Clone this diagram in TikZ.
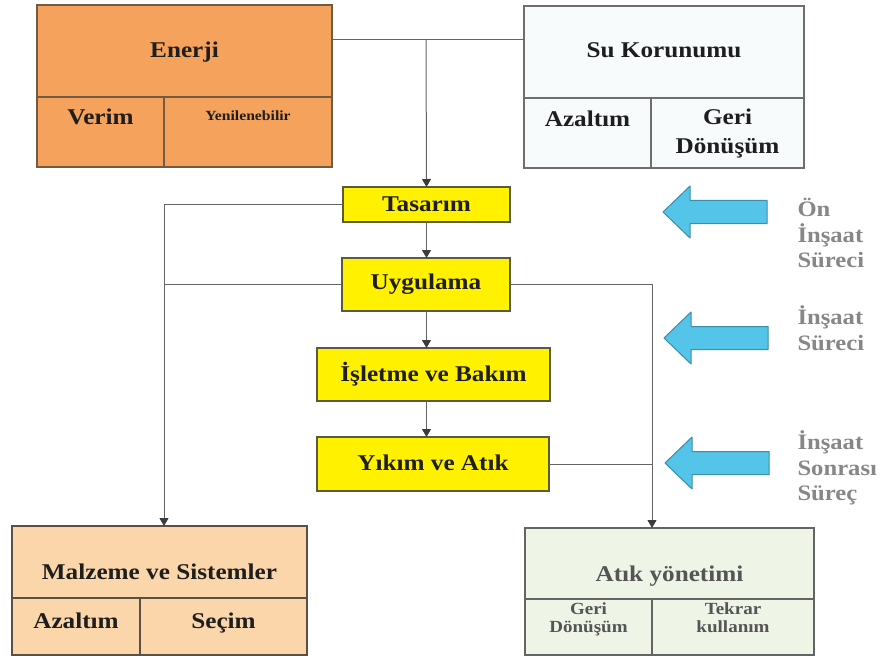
\documentclass[tikz,border=0pt]{standalone}
\usepackage{fontspec}
\setmainfont{Liberation Serif}[FakeStretch=1.12]
\usetikzlibrary{arrows.meta}
\definecolor{orfill}{RGB}{245,163,92}
\definecolor{orline}{RGB}{115,90,65}
\definecolor{sufill}{RGB}{248,251,252}
\definecolor{suline}{RGB}{110,110,110}
\definecolor{yfill}{RGB}{255,241,0}
\definecolor{yline}{RGB}{90,90,60}
\definecolor{mfill}{RGB}{250,214,170}
\definecolor{mline}{RGB}{90,80,70}
\definecolor{afill}{RGB}{238,245,230}
\definecolor{aline}{RGB}{100,100,100}
\definecolor{bfill}{RGB}{84,196,232}
\definecolor{bline}{RGB}{60,140,170}
\definecolor{conn}{RGB}{100,100,100}
\definecolor{tipc}{RGB}{60,60,60}
\definecolor{txt}{RGB}{30,30,30}
\definecolor{gtxt}{RGB}{135,135,135}
\newcommand{\cellt}[4]{\begin{minipage}[c][#1pt][t]{#2pt}\centering\vspace*{#3pt}#4\end{minipage}}
\tikzset{
  cell/.style={draw, line width=1.2pt, inner sep=0pt, outer sep=0pt, anchor=north west,
    text=txt, font=\bfseries\fontsize{22.5}{29}\selectfont},
  obox/.style={cell, fill=orfill, draw=orline},
  sbox/.style={cell, fill=sufill, draw=suline},
  mbox/.style={cell, fill=mfill, draw=mline},
  abox/.style={cell, fill=afill, draw=aline, text={rgb,255:red,85;green,85;blue,85}},
  ybox/.style={draw=yline, fill=yfill, line width=1.2pt, inner sep=0pt, outer sep=0pt,
    anchor=north west, text=txt, font=\bfseries\fontsize{22.5}{26}\selectfont},
  conline/.style={draw=conn, line width=1pt},
  arr/.style={conline, -{Triangle[width=9pt,length=8pt,fill=tipc,color=tipc]}},
  barrow/.style={fill=bfill, draw=bline, line width=1pt, line join=round},
  side/.style={anchor=west, align=left, text=gtxt, font=\bfseries\fontsize{22}{25.5}\selectfont}
}
\begin{document}
\begin{tikzpicture}[x=1pt,y=-1pt]
\useasboundingbox (0,0) rectangle (884,658);

% Enerji
\node[obox] (enerji) at (37,5) {\cellt{92}{295}{37}{Enerji}};
\node[obox] (verim) at (37,97) {\cellt{70}{127}{12}{Verim}};
\node[obox] (yenil) at (164,97) {\cellt{70}{168}{14}{\fontsize{14}{16}\selectfont Yenilenebilir}};

% Su Korunumu
\node[sbox] (su) at (524,6) {\cellt{92}{280}{37}{Su Korunumu}};
\node[sbox] (suaz) at (524,98) {\cellt{70}{127}{13}{Azaltım}};
\node[sbox] (sugeri) at (651,98) {\cellt{70}{153}{11}{Geri\\Dönüşüm}};

% Yellow process boxes
\node[ybox, minimum width=167, minimum height=35] (tasarim) at (343,187) {Tasarım};
\node[ybox, minimum width=168, minimum height=53] (uyg) at (342,258) {\raisebox{3pt}{Uygulama}};
\node[ybox, minimum width=233, minimum height=53] (islet) at (317,348) {\raisebox{3pt}{İşletme ve Bakım}};
\node[ybox, minimum width=232, minimum height=54] (yikim) at (317,437) {\raisebox{3pt}{Yıkım ve Atık}};

% Malzeme ve Sistemler
\node[mbox] (malz) at (12,526) {\cellt{72}{295}{38}{Malzeme ve Sistemler}};
\node[mbox] (maz) at (12,598) {\cellt{57}{128}{15}{Azaltım}};
\node[mbox] (msec) at (140,598) {\cellt{57}{167}{15}{Seçim}};

% Atik yonetimi
\node[abox] (atik) at (525,528) {\cellt{71}{289}{38}{Atık yönetimi}};
\node[abox] (ageri) at (525,599) {\cellt{56}{127}{4}{\fontsize{17}{18}\selectfont Geri\\Dönüşüm}};
\node[abox] (atekrar) at (652,599) {\cellt{56}{162}{4}{\fontsize{17}{18}\selectfont Tekrar\\kullanım}};

% Connectors
\coordinate (j) at (426,40);
\coordinate (r) at (652,0);
\coordinate (l) at (164,0);
\draw[conline] (j -| enerji.east) -- (j -| su.west);
\draw[arr] (j) -- (tasarim.north);
\draw[arr] (tasarim.south) -- (tasarim.south |- uyg.north);
\draw[arr] (tasarim.south |- uyg.south) -- (tasarim.south |- islet.north);
\draw[arr] (tasarim.south |- islet.south) -- (tasarim.south |- yikim.north);
\draw[arr] (tasarim.west) -- (tasarim.west -| l) -- (l |- malz.north);
\draw[conline] (uyg.west) -- (uyg.west -| l);
\draw[arr] (uyg.east) -- (uyg.east -| r) -- (r |- atik.north);
\draw[conline] (yikim.east) -- (yikim.east -| r);

% Block arrows
\coordinate (p1) at (663,212);
\coordinate (p2) at (664,338);
\coordinate (p3) at (665,463);
\foreach \p in {p1,p2,p3}{
  \draw[barrow] (\p) -- ++(27,-26) -- ++(0,14.5) -- ++(77,0) -- ++(0,23) -- ++(-77,0) -- ++(0,14.5) -- cycle;
}

% Side labels
\node[side] (s1) at (794,233) {Ön\\İnşaat\\Süreci};
\node[side] (s2) at (794,328) {İnşaat\\Süreci};
\node[side] (s3) at (794,468) {İnşaat\\Sonrası\\Süreç};
\end{tikzpicture}
\end{document}
